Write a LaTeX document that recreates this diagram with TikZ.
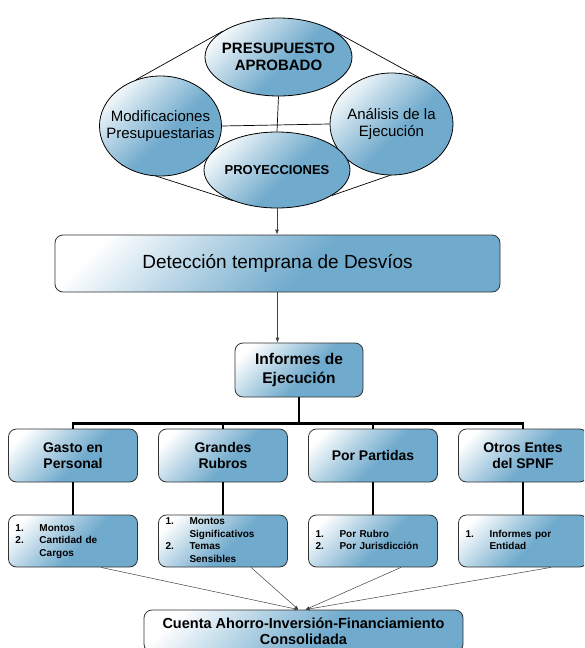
\documentclass[tikz,border=0pt]{standalone}
\usepackage{fontspec}
\setmainfont{Liberation Sans}
\usetikzlibrary{arrows.meta,calc,shapes.geometric,backgrounds}

\definecolor{boxblue}{RGB}{112,170,204}
\pgfdeclarehorizontalshading{gloss}{100bp}{color(0bp)=(white); color(22bp)=(white);
  color(38bp)=(boxblue!50!white); color(55bp)=(boxblue); color(100bp)=(boxblue)}
\newcommand{\fsz}[2]{\fontsize{#1}{#2}\selectfont}

\begin{document}
\begin{tikzpicture}[x=1pt,y=-1pt,>={Latex[length=5pt,width=4pt]}]
	
	% ------------------------------------------------------------
	% Styles
	% ------------------------------------------------------------
	\tikzset{
		bubble/.style={ellipse,draw=black,line width=0.8pt,shade,shading=gloss,
			shading angle=-45,inner sep=0pt},
		bubbletext/.style={align=center,inner sep=0pt},
		chart/.style={rectangle,rounded corners=8pt,draw=black!80,line width=0.8pt,
			shade,shading=gloss,shading angle=-45,inner sep=0pt,align=center},
		lvlbox/.style={chart,minimum width=129pt,minimum height=53pt,font=\bfseries\fsz{14}{16.5}},
		itembox/.style={chart,minimum width=129pt,minimum height=52pt,text width=115pt,
			align=left,font=\bfseries\fsz{10}{12.5}},
		frame/.style={line width=0.7pt,draw=black},
		downarr/.style={->,line width=0.8pt,draw=black!75},
		tree/.style={line width=2.2pt,draw=black},
		thinarr/.style={-{Latex[length=4pt,width=3.5pt]},line width=0.5pt,draw=black!75}
	}
	
	\useasboundingbox (0,0) rectangle (584,648);
	\clip (0,0) rectangle (584,648);
	
	% ============================================================
	% TOP: the four ellipses
	% ============================================================
	\node[bubble,minimum width=122pt,minimum height=100pt] (modif) at (160.5,126) {};
	\node[bubble,minimum width=123pt,minimum height=102pt] (anal) at (391.5,124) {};
	\node[bubble,minimum width=147pt,minimum height=78pt] (pres) at (278.5,57) {};
	\node[bubble,minimum width=146pt,minimum height=76pt] (proy) at (277,170) {};
	
	\node[bubbletext,font=\fsz{15}{17}] (modif-t) at (modif) {Modificaciones\\Presupuestarias};
	\node[bubbletext,font=\fsz{15}{17.5}] (anal-t) at (anal) {Análisis de la\\Ejecución};
	\node[bubbletext,font=\bfseries\fsz{15}{16.5}] (pres-t) at (pres) {PRESUPUESTO\\APROBADO};
	\node[bubbletext,font=\bfseries\fsz{13}{15}] (proy-t) at (proy) {PROYECCIONES};
	
	% outer frame behind the ellipses
	\begin{scope}[on background layer]
		\draw[frame] (pres.155) -- (modif.118);
		\draw[frame] (pres.25) -- (anal.50);
		\draw[frame] (modif.225) -- (proy.215);
		\draw[frame] (anal.322) -- (proy.335);
	\end{scope}
	
	% cross in the middle
	\draw[frame] (pres.south) -- (proy.north);
	\draw[frame] (modif.east) -- (anal.west);
	
	% ============================================================
	% MIDDLE: detection and reports
	% ============================================================
	\node[chart,minimum width=445pt,minimum height=57pt,font=\fsz{19}{22}]
	(det) at (277.5,263.5) {Detección temprana de Desvíos};
	\node[chart,minimum width=128pt,minimum height=54pt,font=\bfseries\fsz{15.5}{18.5}]
	(inf) at (299,370) {Informes de\\Ejecución};
	
	\draw[downarr] (proy.south) -- (proy.south |- det.north);
	\draw[downarr] (det.south) -- (det.south |- inf.north);
	
	% ============================================================
	% TREE: four report types and their contents
	% ============================================================
	\node[lvlbox] (c1) at (73,455.5)  {Gasto en\\Personal};
	\node[lvlbox] (c2) at (223,455.5) {Grandes\\Rubros};
	\node[lvlbox] (c3) at (373,455.5) {Por Partidas};
	\node[lvlbox] (c4) at (523,455.5) {Otros Entes\\del SPNF};
	
	\node[itembox] (d1) at (73,541) {\begin{tabular}{@{}p{24pt}@{}l@{}}
			1.&Montos\\2.&Cantidad de\\&Cargos\end{tabular}};
	\node[itembox] (d2) at (223,541) {\begin{tabular}{@{}p{24pt}@{}l@{}}
			1.&Montos\\&Significativos\\2.&Temas\\&Sensibles\end{tabular}};
	\node[itembox] (d3) at (373,541) {\begin{tabular}{@{}p{24pt}@{}l@{}}
			1.&Por Rubro\\2.&Por Jurisdicción\end{tabular}};
	\node[itembox] (d4) at (523,541) {\begin{tabular}{@{}p{24pt}@{}l@{}}
			1.&Informes por\\&Entidad\end{tabular}};
	
	\coordinate (split) at ($(inf.south)+(0,26)$);
	\draw[tree] (inf.south) -- (split);
	\foreach \i in {1,...,4}{
		\draw[tree] (split) -| (c\i.north);
		\draw[tree] (c\i.south) -- (d\i.north);
	}
	
	% ============================================================
	% BOTTOM: consolidated account
	% ============================================================
	\node[chart,minimum width=319pt,minimum height=42pt,font=\bfseries\fsz{14.5}{16}]
	(fin) at (303.5,631) {Cuenta Ahorro-Inversión-Financiamiento\\Consolidada};
	
	\draw[thinarr] ($(d1.south)+(28,0)$) -- ($(fin.north)+(-5,0)$);
	\draw[thinarr] ($(d2.south)+(28,0)$) -- ($(fin.north)+(-5,0)$);
	\draw[thinarr] ($(d3.south)+(28,0)$) -- ($(fin.north)+(2,0)$);
	\draw[thinarr] ($(d4.south)+(28,0)$) -- ($(fin.north)+(2,0)$);
	
\end{tikzpicture}
\end{document}
